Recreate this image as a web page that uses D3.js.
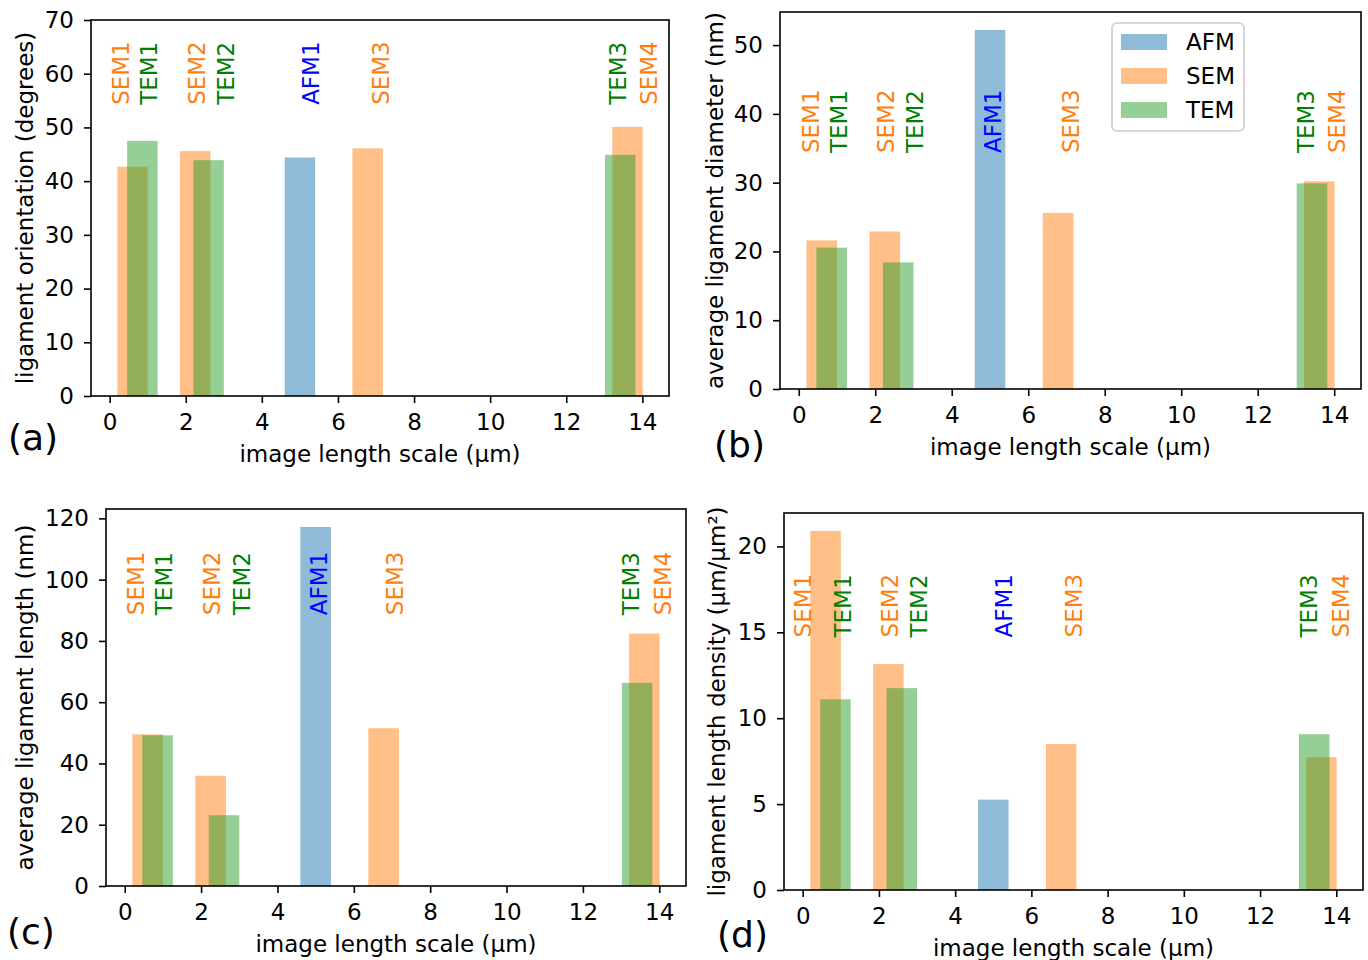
<!DOCTYPE html>
<html>
<head>
<meta charset="utf-8">
<script src="https://cdn.jsdelivr.net/npm/d3@7"></script>
<style>
  html, body { margin: 0; padding: 0; background: #fff; }
  svg { display: block; font-family: "DejaVu Sans", sans-serif; }
</style>
</head>
<body>
<script>
// ---------- data ----------
const samples = ["SEM1", "TEM1", "SEM2", "TEM2", "AFM1", "SEM3", "TEM3", "SEM4"];
const methods = ["SEM", "TEM", "SEM", "TEM", "AFM", "SEM", "TEM", "SEM"];
const lengthScale = [0.6, 0.86, 2.25, 2.6, 5.0, 6.78, 13.42, 13.61];   // µm (bar centres)
const orientation = [42.7, 47.5, 45.6, 43.9, 44.4, 46.1, 44.9, 50.1];  // degrees
const diameter = [21.6, 20.55, 22.9, 18.4, 52.2, 25.6, 29.9, 30.2];    // nm
const ligLength = [49.5, 49.2, 36.0, 23.1, 117.2, 51.5, 66.3, 82.4];   // nm
const density = [20.9, 11.1, 13.15, 11.75, 5.26, 8.5, 9.07, 7.73];     // µm/µm²
const legendOrder = ["AFM", "SEM", "TEM"];
const xTicks = [0, 2, 4, 6, 8, 10, 12, 14];
const yTicksA = [0, 10, 20, 30, 40, 50, 60, 70];
const yTicksB = [0, 10, 20, 30, 40, 50];
const yTicksC = [0, 20, 40, 60, 80, 100, 120];
const yTicksD = [0, 5, 10, 15, 20];
// annotation positions per panel (data coords)
const labelXA = [0.29, 1.03, 2.29, 3.05, 5.29, 7.12, 13.34, 14.17];
const labelXB = [0.31, 1.04, 2.28, 3.04, 5.06, 7.12, 13.24, 14.06];
const labelXC = [0.29, 1.03, 2.27, 3.05, 5.07, 7.07, 13.25, 14.10];
const labelXD = [0.0, 1.05, 2.29, 3.05, 5.27, 7.10, 13.28, 14.10];

// ---------- styles ----------
const barColor = { AFM: "#1f77b4", SEM: "#ff7f0e", TEM: "#2ca02c" };
const textColor = { AFM: "#0000ff", SEM: "#ff7f0e", TEM: "#008000" };
const FS = 23;

const svg = d3.select("body").append("svg").attr("width", 1368).attr("height", 960);
svg.append("rect").attr("width", 1368).attr("height", 960).attr("fill", "#fff");

const barW = 0.8;
const xmin = d3.min(lengthScale) - barW / 2, xmax = d3.max(lengthScale) + barW / 2;
const xpad = (xmax - xmin) * 0.05;

const panels = [
  { letter: "(a)", box: { l: 91, r: 669, t: 20, b: 396 }, values: orientation, yMax: 70, yTicks: yTicksA,
    ylabel: "ligament orientation (degrees)", ylabelX: 33, labelX: labelXA, labelY: 54.2, letterPos: [8, 450], legend: false },
  { letter: "(b)", box: { l: 780, r: 1361, t: 12, b: 389 }, values: diameter, yMax: null, yTicks: yTicksB,
    ylabel: "average ligament diameter (nm)", ylabelX: 722.5, labelX: labelXB, labelY: 34.3, letterPos: [714, 457], legend: true },
  { letter: "(c)", box: { l: 106, r: 686, t: 509, b: 886 }, values: ligLength, yMax: null, yTicks: yTicksC,
    ylabel: "average ligament length (nm)", ylabelX: 33, labelX: labelXC, labelY: 88.4, letterPos: [7, 944], legend: false },
  { letter: "(d)", box: { l: 784, r: 1363, t: 513, b: 890 }, values: density, yMax: null, yTicks: yTicksD,
    ylabel: "ligament length density (µm/µm²)", ylabelX: 724.7, labelX: labelXD, labelY: 14.7, letterPos: [717, 947], legend: false }
];

panels.forEach(p => {
  const { l, r, t, b } = p.box;
  const x = d3.scaleLinear().domain([xmin - xpad, xmax + xpad]).range([l, r]);
  const yMax = p.yMax != null ? p.yMax : d3.max(p.values) * 1.05;
  const y = d3.scaleLinear().domain([0, yMax]).range([b, t]);
  const g = svg.append("g");

  // bars (drawn by method order AFM, SEM, TEM)
  const rows = samples.map((s, i) => ({ s, m: methods[i], x: lengthScale[i], v: p.values[i], lx: p.labelX[i] }));
  const ordered = legendOrder.flatMap(m => rows.filter(d => d.m === m));
  g.selectAll("rect.bar").data(ordered).join("rect")
    .attr("class", "bar")
    .attr("x", d => x(d.x - barW / 2))
    .attr("width", d => x(d.x + barW / 2) - x(d.x - barW / 2))
    .attr("y", d => y(d.v))
    .attr("height", d => y(0) - y(d.v))
    .attr("fill", d => barColor[d.m])
    .attr("fill-opacity", 0.5);

  // annotations
  g.selectAll("text.ann").data(rows).join("text")
    .attr("class", "ann")
    .attr("transform", d => `translate(${x(d.lx)},${y(p.labelY)}) rotate(-90)`)
    .attr("dy", "0.365em")
    .attr("text-anchor", "start")
    .attr("font-size", FS)
    .attr("fill", d => textColor[d.m])
    .text(d => d.s);

  // axes
  const xAxis = d3.axisBottom(x).tickValues(xTicks).tickSize(7).tickPadding(11).tickFormat(d3.format("d"));
  const yAxis = d3.axisLeft(y).tickValues(p.yTicks).tickSize(7).tickPadding(10).tickFormat(d3.format("d"));
  const gx = g.append("g").attr("transform", `translate(0,${b})`).call(xAxis);
  const gy = g.append("g").attr("transform", `translate(${l},0)`).call(yAxis);
  [gx, gy].forEach(ax => {
    ax.select(".domain").remove();
    ax.selectAll(".tick line").attr("stroke", "#000").attr("stroke-width", 1.6);
    ax.selectAll(".tick text").attr("font-size", FS).attr("fill", "#000").attr("font-family", "DejaVu Sans");
  });

  // frame
  g.append("rect").attr("x", l).attr("y", t).attr("width", r - l).attr("height", b - t)
    .attr("fill", "none").attr("stroke", "#000").attr("stroke-width", 1.6);

  // axis labels
  g.append("text").attr("x", (l + r) / 2).attr("y", b + 66)
    .attr("text-anchor", "middle").attr("font-size", FS).text("image length scale (µm)");
  g.append("text").attr("transform", `translate(${p.ylabelX},${(t + b) / 2}) rotate(-90)`)
    .attr("text-anchor", "middle").attr("font-size", FS).text(p.ylabel);

  // panel letter
  g.append("text").attr("x", p.letterPos[0]).attr("y", p.letterPos[1])
    .attr("font-size", 36).text(p.letter);

  // legend
  if (p.legend) {
    const lg = g.append("g");
    lg.append("rect").attr("x", 1112).attr("y", 23).attr("width", 132).attr("height", 108).attr("rx", 5)
      .attr("fill", "#fff").attr("fill-opacity", 0.8).attr("stroke", "#cccccc").attr("stroke-width", 1.6);
    const items = lg.selectAll("g.item").data(legendOrder).join("g").attr("class", "item")
      .attr("transform", (d, i) => `translate(1121,${34 + i * 34})`);
    items.append("rect").attr("width", 46).attr("height", 16)
      .attr("fill", d => barColor[d]).attr("fill-opacity", 0.5);
    items.append("text").attr("x", 65).attr("y", 16).attr("font-size", FS).text(d => d);
  }
});
</script>
</body>
</html>
